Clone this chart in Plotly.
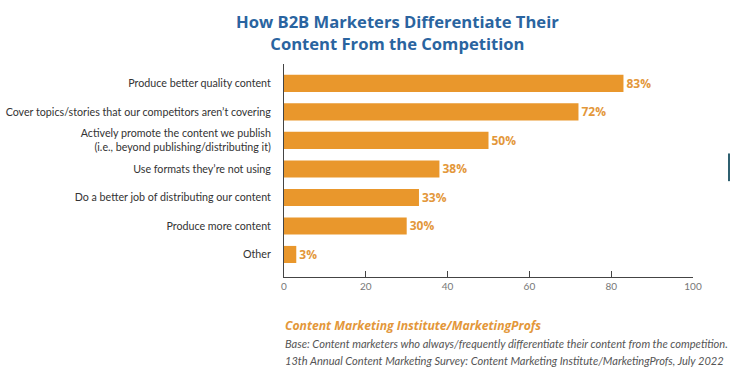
import plotly.graph_objects as go

categories = [
    "Produce better quality content",
    "Cover topics/stories that our competitors aren’t covering",
    "Actively promote the content we publish<br>(i.e., beyond publishing/distributing it)",
    "Use formats they’re not using",
    "Do a better job of distributing our content",
    "Produce more content",
    "Other",
]
values = [83, 72, 50, 38, 33, 30, 3]
value_labels = [f"{v}%" for v in values]
x_ticks = [0, 20, 40, 60, 80, 100]

BAR = "#E9972C"
TEXT_ORANGE = "#E3973A"
BLUE = "#2A64A0"

fig = go.Figure(go.Bar(
    y=categories, x=values, orientation="h",
    marker=dict(color=BAR, line=dict(width=0)),
    text=value_labels, textposition="outside", cliponaxis=False,
    textfont=dict(family="Open Sans", size=12, color=TEXT_ORANGE, weight="bold"),
    width=0.6,
))

fig.update_layout(
    width=730, height=378,
    margin=dict(l=284, r=37, t=64, b=101, autoexpand=False),
    paper_bgcolor="white", plot_bgcolor="white",
    showlegend=False,
    font=dict(family="Lato", color="#333333"),
    xaxis=dict(
        range=[0, 100], tickvals=x_ticks, ticks="inside", ticklen=6,
        tickcolor="#444", showline=True, linecolor="#444", linewidth=1,
        showgrid=False, zeroline=False, automargin=False,
        tickfont=dict(family="Lato", size=10, color="#777777"),
    ),
    yaxis=dict(
        type="category", autorange=False, range=[6.79, -0.68],
        showline=True, linecolor="#444", linewidth=1, showgrid=False,
        ticks="", ticklabelstandoff=10, automargin=False,
        tickfont=dict(family="Lato", size=10.7, color="#333333"),
    ),
)

fig.add_annotation(
    text="<b>How B2B Marketers Differentiate Their<br>Content From the Competition</b>",
    xref="paper", yref="paper", x=0.277, y=1.0, xanchor="center", yanchor="bottom",
    yshift=7, showarrow=False, align="center",
    font=dict(family="Open Sans", size=16.6, color=BLUE),
)
fig.add_annotation(
    text="<b><i>Content Marketing Institute/MarketingProfs</i></b>",
    xref="paper", yref="paper", x=-0.002, y=-0.228, xanchor="left", yanchor="middle",
    showarrow=False, font=dict(family="Open Sans", size=12.2, color=TEXT_ORANGE),
)
fig.add_annotation(
    text="<i>Base: Content marketers who always/frequently differentiate their content from the competition.</i>",
    xref="paper", yref="paper", x=-0.002, y=-0.31, xanchor="left", yanchor="middle",
    showarrow=False, font=dict(family="Lato", size=11.1, color="#555555"),
)
fig.add_annotation(
    text="<i>13th Annual Content Marketing Survey: Content Marketing Institute/MarketingProfs, July 2022</i>",
    xref="paper", yref="paper", x=-0.002, y=-0.39, xanchor="left", yanchor="middle",
    showarrow=False, font=dict(family="Lato", size=11.1, color="#555555"),
)
# thin teal edge mark at the right border of the reference image
fig.add_shape(type="line", xref="paper", yref="paper", x0=1.088, x1=1.088, y0=0.45, y1=0.58,
              line=dict(color="#2F6070", width=2))

fig.write_html("out.html", config={"displayModeBar": False},
               post_script="document.body.style.margin='0px';")
